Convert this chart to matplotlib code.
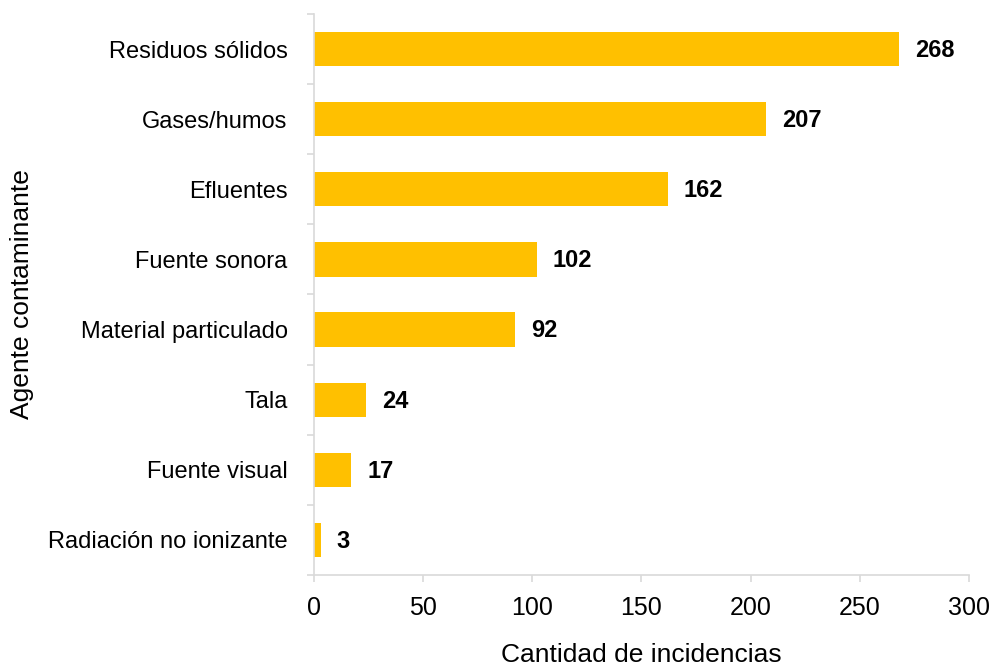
import numpy as np
import matplotlib.pyplot as plt
import matplotlib.ticker as ticker

plt.rcParams['font.family'] = ['Liberation Sans', 'DejaVu Sans']

agentes = ['Residuos sólidos', 'Gases/humos', 'Efluentes', 'Fuente sonora',
           'Material particulado', 'Tala', 'Fuente visual', 'Radiación no ionizante']
incidencias = [268, 207, 162, 102, 92, 24, 17, 3]
xticks = [0, 50, 100, 150, 200, 250, 300]

gris = '#d9d9d9'

fig = plt.figure(figsize=(9.93, 6.70), dpi=100)
ax = fig.add_axes([0.3162, 0.1418, 0.6596, 0.8373])

pos = np.arange(len(agentes))
ax.barh(pos, incidencias, height=0.49, color='#ffc000')

ax.set_ylim(len(agentes) - 0.5, -0.5)
ax.set_xlim(0, 300)

# etiquetas de valor al final de cada barra
for i, v in enumerate(incidencias):
    ax.annotate(str(v), xy=(v, i), xytext=(11.5, -1), textcoords='offset points',
                ha='left', va='center', fontsize=17, fontweight='bold')

ax.set_yticks(pos)
ax.set_yticklabels(agentes, fontsize=17)
ax.yaxis.set_minor_locator(ticker.FixedLocator(np.arange(-0.5, len(agentes), 1)))
ax.tick_params(axis='y', which='major', length=0, pad=19)
ax.tick_params(axis='y', which='minor', length=5, width=1.2, color=gris, direction='out')

ax.set_xticks(xticks)
ax.tick_params(axis='x', labelsize=18, length=5, width=1.2, color=gris, pad=10)

for s in ['top', 'right']:
    ax.spines[s].set_visible(False)
for s in ['left', 'bottom']:
    ax.spines[s].set_color(gris)
    ax.spines[s].set_linewidth(1.2)

ax.set_xlabel('Cantidad de incidencias', fontsize=19, labelpad=17)
ax.set_ylabel('Agente contaminante', fontsize=19, labelpad=10)

fig.savefig('out.png', dpi=100)
